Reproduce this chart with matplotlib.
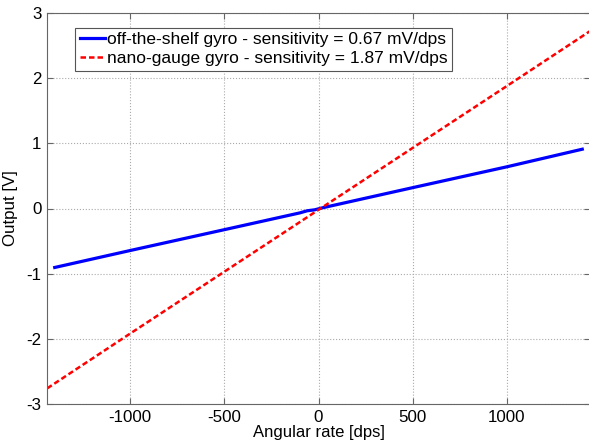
import numpy as np
import matplotlib
matplotlib.use("Agg")
import matplotlib.pyplot as plt

plt.rcParams['font.family'] = ['Liberation Sans', 'DejaVu Sans']
plt.rcParams['axes.unicode_minus'] = False

# data
rate_shelf = [-1400, -1000, -500, -100, -60, -20, 20, 500, 1000, 1400]
out_shelf = [-0.905, -0.645, -0.325, -0.068, -0.035, -0.02, 0.01, 0.32, 0.64, 0.91]
rate_nano = [-1440, -1000, -500, 0, 500, 1000, 1440]
out_nano = [-2.76, -1.92, -0.97, -0.02, 0.93, 1.88, 2.72]
label_shelf = "off-the-shelf gyro - sensitivity = 0.67 mV/dps"
label_nano = "nano-gauge gyro - sensitivity = 1.87 mV/dps"
xticks = [-1000, -500, 0, 500, 1000]
yticks = [-3, -2, -1, 0, 1, 2, 3]

fig = plt.figure(figsize=(5.89, 4.43), dpi=100)
ax = fig.add_axes([47 / 589, 1 - 404 / 443, 543 / 589, 391 / 443])
ax.plot(rate_shelf, out_shelf, color='#0000ff', lw=2.3, label=label_shelf)
ax.plot(rate_nano, out_nano, color='#ff0000', lw=1.8, ls=(0, (2.2, 1.2)), label=label_nano)
ax.set_xlim(-1441, 1441)
ax.set_ylim(-3, 3)
ax.set_xticks(xticks)
ax.set_yticks(yticks)
ax.grid(True, ls=':', color='#aaaaaa', lw=0.8)
ax.tick_params(direction='in', top=True, right=True, labelsize=12.2, length=4,
               color='#666666', pad=4)
ax.tick_params(axis='x', pad=4.5)
for s in ax.spines.values():
    s.set_color('#666666')
ax.set_xlabel("Angular rate [dps]", fontsize=12, labelpad=0)
ax.set_ylabel("Output [V]", fontsize=12.2, labelpad=6)
leg = ax.legend(loc='upper left', bbox_to_anchor=(0.052, 0.962), fontsize=12.5,
                handlelength=1.45, handletextpad=0.15, borderpad=0.25,
                labelspacing=0.22, fancybox=False, framealpha=1, borderaxespad=0)
leg.get_frame().set_edgecolor('#555555')
leg.get_frame().set_linewidth(0.8)
fig.savefig("out.png", dpi=100)
